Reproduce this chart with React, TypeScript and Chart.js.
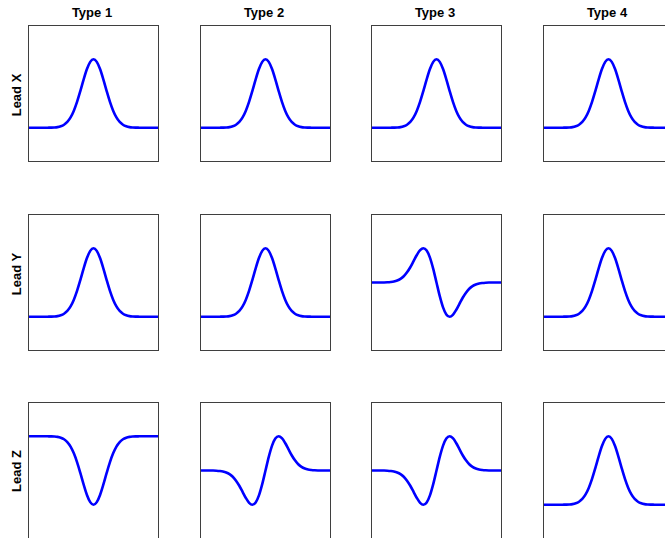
import React, { useEffect, useRef } from "react";
import { Chart, registerables } from "chart.js";

Chart.register(...registerables);

// ---- Data ----
const leads = ["Lead X", "Lead Y", "Lead Z"];
const types = ["Type 1", "Type 2", "Type 3", "Type 4"];

const xValues = [
  -1, -0.95, -0.9, -0.85, -0.8, -0.75, -0.7, -0.65, -0.6, -0.55, -0.5,
  -0.45, -0.4, -0.35, -0.3, -0.25, -0.2, -0.15, -0.1, -0.05, 0,
  0.05, 0.1, 0.15, 0.2, 0.25, 0.3, 0.35, 0.4, 0.45, 0.5,
  0.55, 0.6, 0.65, 0.7, 0.75, 0.8, 0.85, 0.9, 0.95, 1,
];

const uprightWave = [
  0, 0, 0, 0, 0, 0, 0.001, 0.002, 0.004, 0.009, 0.021,
  0.044, 0.085, 0.151, 0.249, 0.381, 0.539, 0.707, 0.857, 0.962, 1,
  0.962, 0.857, 0.707, 0.539, 0.381, 0.249, 0.151, 0.085, 0.044, 0.021,
  0.009, 0.004, 0.002, 0.001, 0, 0, 0, 0, 0, 0,
];

const invertedWave = [
  0, 0, 0, 0, 0, 0, -0.001, -0.002, -0.004, -0.009, -0.021,
  -0.044, -0.085, -0.151, -0.249, -0.381, -0.539, -0.707, -0.857, -0.962, -1,
  -0.962, -0.857, -0.707, -0.539, -0.381, -0.249, -0.151, -0.085, -0.044, -0.021,
  -0.009, -0.004, -0.002, -0.001, 0, 0, 0, 0, 0, 0,
];

const downUpWave = [
  0, 0, 0, 0, -0.001, -0.003, -0.007, -0.014, -0.028, -0.052, -0.091,
  -0.148, -0.223, -0.312, -0.402, -0.472, -0.5, -0.467, -0.364, -0.2, 0,
  0.2, 0.364, 0.467, 0.5, 0.472, 0.402, 0.312, 0.223, 0.148, 0.091,
  0.052, 0.028, 0.014, 0.007, 0.003, 0.001, 0, 0, 0, 0,
];

const upDownWave = [
  0, 0, 0, 0, 0.001, 0.003, 0.007, 0.014, 0.028, 0.052, 0.091,
  0.148, 0.223, 0.312, 0.402, 0.472, 0.5, 0.467, 0.364, 0.2, 0,
  -0.2, -0.364, -0.467, -0.5, -0.472, -0.402, -0.312, -0.223, -0.148, -0.091,
  -0.052, -0.028, -0.014, -0.007, -0.003, -0.001, 0, 0, 0, 0,
];

// waves per lead (rows) and type (columns)
const leadXWaves = [uprightWave, uprightWave, uprightWave, uprightWave];
const leadYWaves = [uprightWave, uprightWave, upDownWave, uprightWave];
const leadZWaves = [invertedWave, downUpWave, downUpWave, uprightWave];

// y-axis limits [min, max] per panel
const leadXLimits = [[-0.5, 1.5], [-0.5, 1.5], [-0.5, 1.5], [-0.5, 1.5]];
const leadYLimits = [[-0.5, 1.5], [-0.5, 1.5], [-1, 1], [-0.5, 1.5]];
const leadZLimits = [[-1.5, 0.5], [-1, 1], [-1, 1], [-0.5, 1.5]];

const xLimits = [-1, 1];

const waveGrid = [leadXWaves, leadYWaves, leadZWaves];
const limitGrid = [leadXLimits, leadYLimits, leadZLimits];

// ---- Layout ----
const panelLefts = [28, 200, 371, 543];
const panelTops = [25, 214, 402];
const panelW = 131;
const panelH = 137;
const labelCenters = [94.5, 274, 470.5];
const FONT = '"Liberation Sans", Arial, Helvetica, sans-serif';

const boxPlugin = {
  id: "boxBorder",
  afterDatasetsDraw(chart: any) {
    const { ctx, chartArea } = chart;
    ctx.save();
    ctx.strokeStyle = "#3f3f3f";
    ctx.lineWidth = 1;
    ctx.strokeRect(
      chartArea.left + 0.5,
      chartArea.top + 0.5,
      chartArea.right - chartArea.left - 1,
      chartArea.bottom - chartArea.top - 1
    );
    ctx.restore();
  },
};

function Panel({ wave, limits, left, top }: { wave: number[]; limits: number[]; left: number; top: number }) {
  const ref = useRef<HTMLCanvasElement | null>(null);
  useEffect(() => {
    if (!ref.current) return;
    const points = xValues.map((x, i) => ({ x, y: wave[i] }));
    const chart = new Chart(ref.current, {
      type: "line",
      data: {
        datasets: [
          {
            data: points,
            borderColor: "#0000ff",
            borderWidth: 2.6,
            pointRadius: 0,
            fill: false,
            cubicInterpolationMode: "monotone",
            borderCapStyle: "round",
            borderJoinStyle: "round",
          },
        ],
      },
      options: {
        animation: false,
        responsive: false,
        maintainAspectRatio: false,
        devicePixelRatio: 1,
        layout: { padding: 0 },
        plugins: { legend: { display: false }, tooltip: { enabled: false }, title: { display: false } },
        events: [],
        scales: {
          x: { type: "linear", min: xLimits[0], max: xLimits[1], display: false },
          y: { type: "linear", min: limits[0], max: limits[1], display: false },
        },
      },
      plugins: [boxPlugin],
    } as any);
    return () => chart.destroy();
  }, [wave, limits]);
  return (
    <canvas
      ref={ref}
      width={panelW}
      height={panelH}
      style={{ position: "absolute", left, top, width: panelW, height: panelH }}
    />
  );
}

export default function App() {
  return (
    <div
      style={{
        position: "fixed",
        left: 0,
        top: 0,
        width: 665,
        height: 538,
        overflow: "hidden",
        background: "#ffffff",
      }}
    >
      {types.map((t, c) => (
        <div
          key={t}
          style={{
            position: "absolute",
            left: panelLefts[c] + 65 - 60 - 1,
            top: 6,
            width: 120,
            textAlign: "center",
            font: `bold 13px ${FONT}`,
            lineHeight: "13px",
            color: "#000",
            whiteSpace: "nowrap",
          }}
        >
          {t}
        </div>
      ))}
      {leads.map((l, r) => (
        <div
          key={l}
          style={{
            position: "absolute",
            left: 16,
            top: labelCenters[r],
            transform: "translate(-50%, -50%) rotate(-90deg)",
            font: `bold 13px ${FONT}`,
            lineHeight: "13px",
            color: "#000",
            whiteSpace: "nowrap",
          }}
        >
          {l}
        </div>
      ))}
      {waveGrid.map((row, r) =>
        row.map((wave, c) => (
          <Panel
            key={`${r}-${c}`}
            wave={wave}
            limits={limitGrid[r][c]}
            left={panelLefts[c]}
            top={panelTops[r]}
          />
        ))
      )}
    </div>
  );
}
